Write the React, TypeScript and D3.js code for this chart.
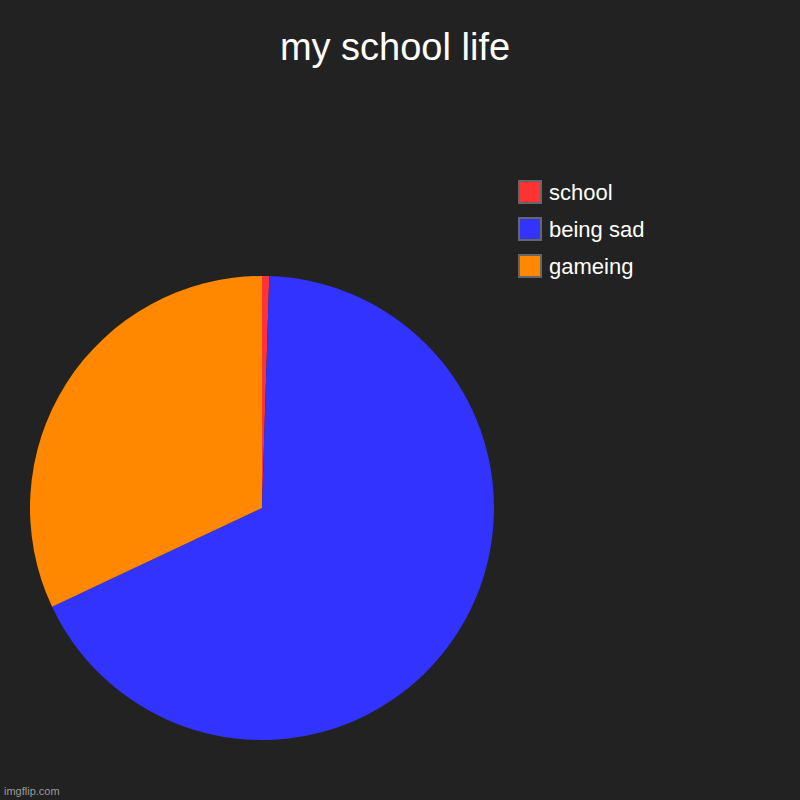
import { useEffect, useRef } from 'react';
import * as d3 from 'd3';

const labels = ['school', 'being sad', 'gameing'];
const values = [1, 135, 64];
const colors = ['#ff3333', '#3333ff', '#ff8800'];

const width = 800;
const height = 800;
const font = '"Liberation Sans", Arial, sans-serif';

export default function App() {
  const svgRef = useRef<SVGSVGElement>(null);

  useEffect(() => {
    if (!svgRef.current) return;
    const svg = d3.select(svgRef.current);
    svg.selectAll('*').remove();

    svg.append('rect')
      .attr('width', width)
      .attr('height', height)
      .attr('fill', '#222222');

    // Title
    svg.append('text')
      .attr('x', 395)
      .attr('y', 60)
      .attr('text-anchor', 'middle')
      .attr('font-size', '38px')
      .attr('fill', '#ffffff')
      .style('font-family', font)
      .text('my school life');

    const pieData = labels.map((label, i) => ({ label, value: values[i], color: colors[i] }));
    const radius = 232;

    const pie = d3.pie<{ label: string; value: number; color: string }>()
      .value(d => d.value)
      .sort(null);

    const arc = d3.arc<d3.PieArcDatum<{ label: string; value: number; color: string }>>()
      .innerRadius(0)
      .outerRadius(radius);

    const chart = svg.append('g')
      .attr('transform', `translate(262, 508)`);

    chart.selectAll('path')
      .data(pie(pieData))
      .enter()
      .append('path')
      .attr('d', arc)
      .attr('fill', d => d.data.color);

    // Legend
    const legend = svg.append('g')
      .attr('transform', 'translate(519, 181)');

    const items = legend.selectAll('.legend-item')
      .data(pieData)
      .enter()
      .append('g')
      .attr('class', 'legend-item')
      .attr('transform', (d, i) => `translate(0, ${i * 37})`);

    items.append('rect')
      .attr('width', 22)
      .attr('height', 22)
      .attr('fill', d => d.color)
      .attr('stroke', '#666666')
      .attr('stroke-width', 2);

    items.append('text')
      .attr('x', 30)
      .attr('y', 19)
      .attr('font-size', '22px')
      .attr('fill', '#ffffff')
      .style('font-family', font)
      .text(d => d.label);

    // Watermark
    svg.append('text')
      .attr('x', 4)
      .attr('y', 795)
      .attr('font-size', '11px')
      .attr('fill', '#999999')
      .style('font-family', font)
      .text('imgflip.com');
  }, []);

  return (
    <svg
      ref={svgRef}
      width={width}
      height={height}
      style={{ position: 'absolute', left: 0, top: 0 }}
    />
  );
}
